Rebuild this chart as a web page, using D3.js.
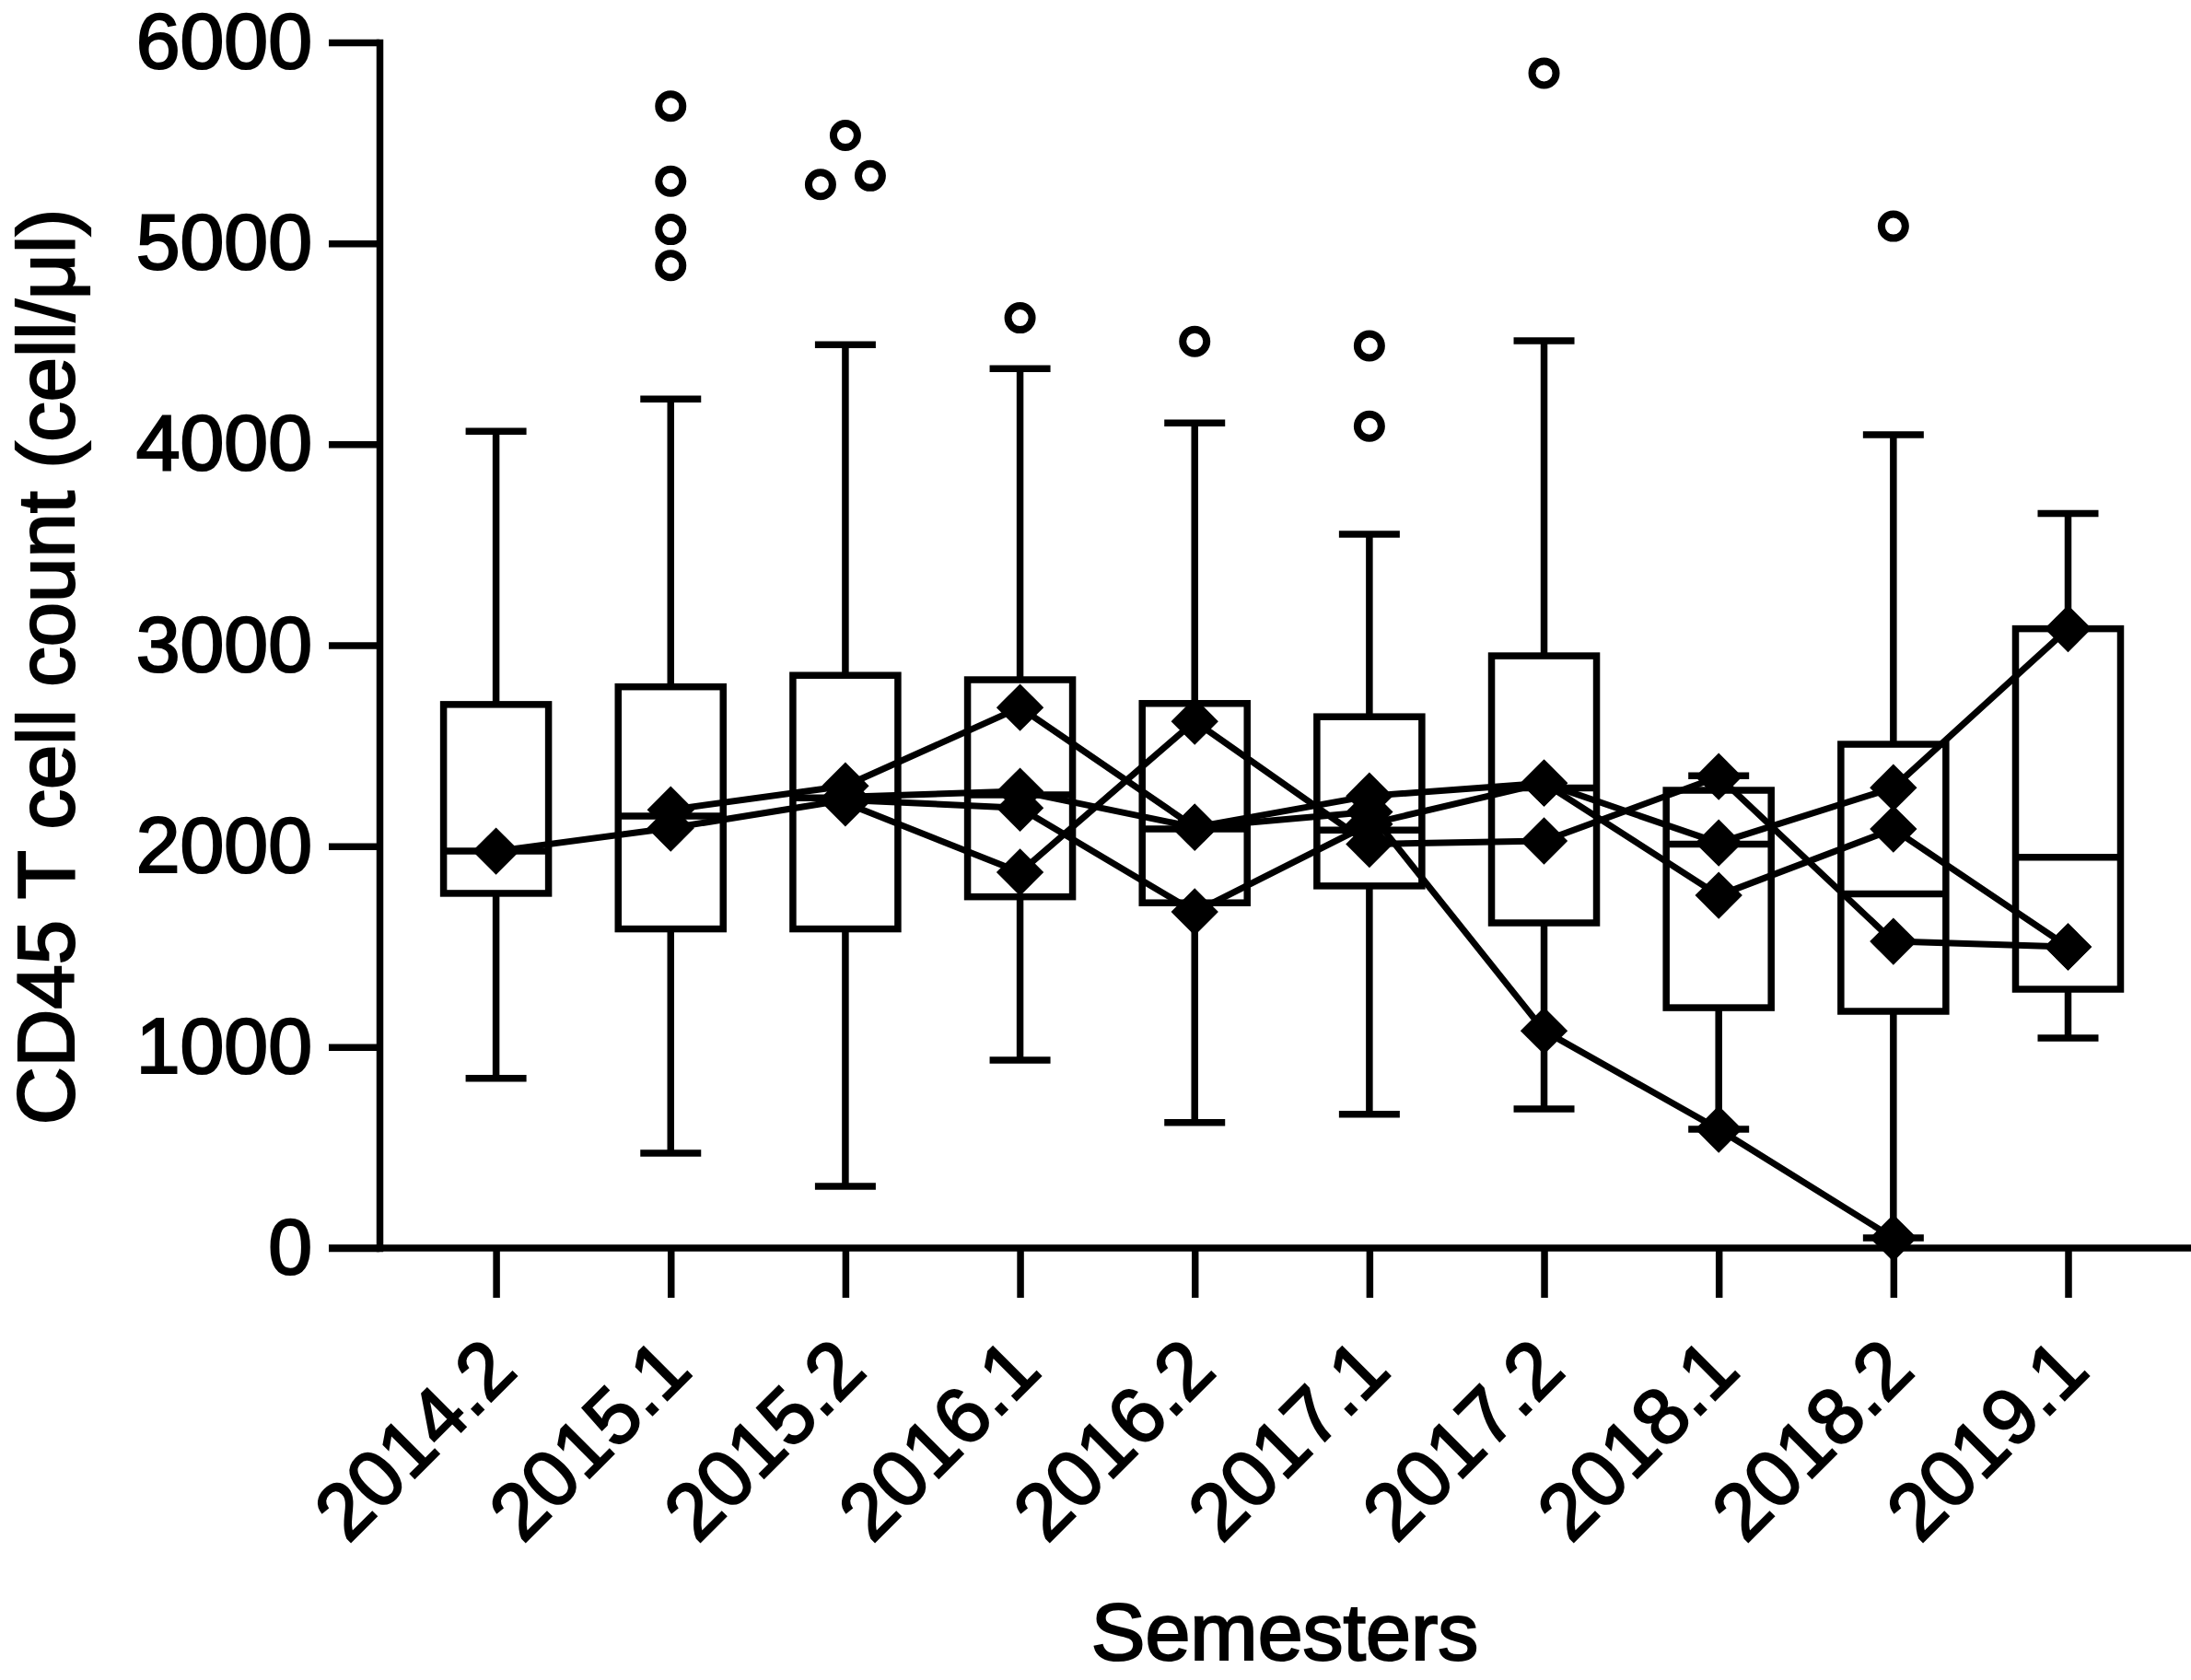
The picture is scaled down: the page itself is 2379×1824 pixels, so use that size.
<!DOCTYPE html>
<html>
<head>
<meta charset="utf-8">
<script src="https://cdn.jsdelivr.net/npm/d3@7"></script>
<style>
  html, body { margin: 0; padding: 0; background: #fff; }
  svg { display: block; }
  text { font-family: "Liberation Sans", Arial, Helvetica, sans-serif; fill: #000; stroke: #000; stroke-width: 2.2px; }
</style>
</head>
<body>
<svg id="chart" width="2379" height="1824"></svg>
<script>
// ---------- data ----------
const categories = ["2014.2","2015.1","2015.2","2016.1","2016.2","2017.1","2017.2","2018.1","2018.2","2019.1"];
const whiskerLow  = [845, 472, 307, 935, 625, 666, 692, 591, 50, 1045];
const q1          = [1765, 1588, 1588, 1748, 1718, 1802, 1618, 1196, 1178, 1288];
const medians     = [1975, 2150, 2240, 2255, 2085, 2080, 2290, 2010, 1762, 1945];
const q3          = [2705, 2793, 2850, 2828, 2710, 2644, 2947, 2278, 2507, 3082];
const whiskerHigh = [4065, 4225, 4495, 4376, 4106, 3552, 4515, 2350, 4047, 3655];
const outliers = [
  [],
  [5683, 5309, 5069, 4890],
  [5537, 5293, 5336],
  [4629],
  [4512],
  [4490, 4090],
  [5847],
  [],
  [5085],
  []
];
const series1 = [null, 2181, 2300, 2690, 2094, 2250, 2314, 2016, 2291, 3082];
const series2 = [1975, 2090, 2230, 2190, 1673, 2110, 2314, 1755, 2085, 1499];
const series3 = [null, null, 2215, 1870, 2621, 2010, 2026, 2346, 1526, 1499];
const series4 = [null, null, 2245, 2273, 2094, 2170, 1081, 591, 50, null];
const yTicks = [0, 1000, 2000, 3000, 4000, 5000, 6000];
const yTitle = "CD45 T cell count (cell/μl)";
const xTitle = "Semesters";

// ---------- layout ----------
const W = 2379, H = 1824;
const axisX = 412, axisY = 1355, topY = 46;
const SW = 7.5;
const svg = d3.select("#chart");
svg.append("rect").attr("width", W).attr("height", H).attr("fill", "#fff");

const x = d3.scalePoint().domain(categories).range([538.6, 2245.5]);
const y = d3.scaleLinear().domain([0, 6000]).range([axisY, topY]);

const boxW = 114, capW = 66;

// ---------- boxes ----------
const boxData = categories.map((c, i) => ({
  c, lo: whiskerLow[i], q1: q1[i], med: medians[i], q3: q3[i], hi: whiskerHigh[i], out: outliers[i]
}));

const g = svg.append("g");
const bx = g.selectAll("g.box").data(boxData).join("g").attr("class", "box");

bx.append("line").attr("x1", d => x(d.c)).attr("x2", d => x(d.c))
  .attr("y1", d => y(d.hi)).attr("y2", d => y(d.q3))
  .attr("stroke", "#000").attr("stroke-width", SW);
bx.append("line").attr("x1", d => x(d.c)).attr("x2", d => x(d.c))
  .attr("y1", d => y(d.q1)).attr("y2", d => y(d.lo))
  .attr("stroke", "#000").attr("stroke-width", SW);
bx.append("line").attr("x1", d => x(d.c) - capW / 2).attr("x2", d => x(d.c) + capW / 2)
  .attr("y1", d => y(d.hi)).attr("y2", d => y(d.hi))
  .attr("stroke", "#000").attr("stroke-width", SW);
bx.append("line").attr("x1", d => x(d.c) - capW / 2).attr("x2", d => x(d.c) + capW / 2)
  .attr("y1", d => y(d.lo)).attr("y2", d => y(d.lo))
  .attr("stroke", "#000").attr("stroke-width", SW);
bx.append("rect").attr("x", d => x(d.c) - boxW / 2).attr("width", boxW)
  .attr("y", d => y(d.q3)).attr("height", d => y(d.q1) - y(d.q3))
  .attr("fill", "#fff").attr("stroke", "#000").attr("stroke-width", SW);
bx.append("line").attr("x1", d => x(d.c) - boxW / 2).attr("x2", d => x(d.c) + boxW / 2)
  .attr("y1", d => y(d.med)).attr("y2", d => y(d.med))
  .attr("stroke", "#000").attr("stroke-width", SW);

// outliers (spread horizontally when values nearly coincide)
const outPts = [];
boxData.forEach(d => {
  const vals = d.out;
  vals.forEach((v, j) => {
    const close = vals.filter((w, k) => k !== j && Math.abs(w - v) < 100);
    let off = 0;
    if (close.length) {
      const grp = vals.filter(w => Math.abs(w - v) < 100 || w === v).slice().sort((a, b) => a - b);
      const idx = grp.indexOf(v);
      off = (idx - (grp.length - 1) / 2) * 54;
    }
    outPts.push({ c: d.c, v, off });
  });
});
g.selectAll("circle.out").data(outPts).join("circle").attr("class", "out")
  .attr("cx", d => x(d.c) + d.off).attr("cy", d => y(d.v)).attr("r", 13)
  .attr("fill", "#fff").attr("stroke", "#000").attr("stroke-width", 8);

// ---------- series lines ----------
const allSeries = [series1, series2, series3, series4];
const line = d3.line().defined(d => d.v != null).x(d => x(d.c)).y(d => y(d.v));
allSeries.forEach(s => {
  const pts = categories.map((c, i) => ({ c, v: s[i] }));
  g.append("path").datum(pts).attr("d", line)
    .attr("fill", "none").attr("stroke", "#000").attr("stroke-width", 7)
    .attr("stroke-linejoin", "round");
});
const diamond = d3.symbol().type(d3.symbolDiamond2).size(2 * 29 * 29);
allSeries.forEach(s => {
  const pts = categories.map((c, i) => ({ c, v: s[i] })).filter(d => d.v != null);
  g.selectAll(null).data(pts).join("path")
    .attr("d", diamond)
    .attr("transform", d => `translate(${x(d.c)},${y(d.v)})`)
    .attr("fill", "#000");
});

// ---------- axes ----------
const yAxis = d3.axisLeft(y).tickValues(yTicks).tickSize(55).tickSizeOuter(0).tickPadding(18)
  .tickFormat(d3.format("d"));
const ya = svg.append("g").attr("transform", `translate(${axisX},0)`).call(yAxis);
ya.select(".domain").attr("stroke", "#000").attr("stroke-width", SW).attr("stroke-linecap", "square");
ya.selectAll(".tick line").attr("stroke", "#000").attr("stroke-width", SW);
ya.selectAll(".tick text").attr("font-size", 86).attr("fill", "#000")
  .attr("font-family", "'Liberation Sans', Arial, sans-serif");

svg.append("line").attr("x1", axisX - 55).attr("x2", W).attr("y1", axisY).attr("y2", axisY)
  .attr("stroke", "#000").attr("stroke-width", SW);

const xAxis = d3.axisBottom(x).tickSize(54).tickSizeOuter(0).tickPadding(0);
const xa = svg.append("g").attr("transform", `translate(0,${axisY})`).call(xAxis);
xa.select(".domain").remove();
xa.selectAll(".tick line").attr("stroke", "#000").attr("stroke-width", SW);
xa.selectAll(".tick text")
  .attr("font-size", 86).attr("fill", "#000")
  .attr("font-family", "'Liberation Sans', Arial, sans-serif")
  .attr("text-anchor", "end").attr("dy", null).attr("y", null)
  .attr("transform", "translate(25,136) rotate(-45)");

// titles
svg.append("text").attr("x", 1395).attr("y", 1802).attr("text-anchor", "middle")
  .attr("font-size", 88).text(xTitle);
svg.append("text").attr("transform", "translate(80,724) rotate(-90)").attr("text-anchor", "middle")
  .attr("font-size", 87).text(yTitle);
</script>
</body>
</html>
